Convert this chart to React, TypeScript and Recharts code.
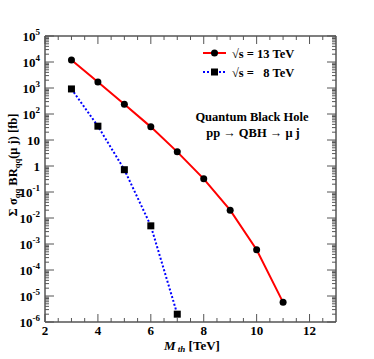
import React from "react";
import { LineChart, Line, XAxis, YAxis, Customized } from "recharts";

// ---- data ----
const masses = [3, 4, 5, 6, 7, 8, 9, 10, 11];
const sigma13 = [1.2e4, 1.7e3, 235, 32, 3.5, 0.32, 0.02, 6e-4, 5.7e-6];
const sigma8 = [920, 34, 0.72, 0.005, 2e-6];
const seriesLabels = ["\u221As = 13 TeV", "\u221As = \u00a0\u00a08 TeV"];
const annotation = ["Quantum Black Hole", "pp \u2192 QBH \u2192 \u03bc j"];
const xTicks = [2, 2.5, 3, 3.5, 4, 4.5, 5, 5.5, 6, 6.5, 7, 7.5, 8, 8.5, 9, 9.5, 10, 10.5, 11, 11.5, 12, 12.5];
const decades = [-6, -5, -4, -3, -2, -1, 0, 1, 2, 3, 4, 5];

const data = masses.map((m, i) => ({
  m,
  s13: sigma13[i],
  s8: i < sigma8.length ? sigma8[i] : undefined,
}));

const yTicks: number[] = [];
decades.forEach((d) => {
  yTicks.push(Math.pow(10, d));
  if (d < 5) for (let k = 2; k <= 9; k++) yTicks.push(k * Math.pow(10, d));
});

const RED = "#ff0000";
const BLUE = "#0000ff";
const AXIS = "#555555";
const FONT = "'Liberation Serif', 'DejaVu Serif', serif";

const isMajorY = (v: number) => {
  const l = Math.log10(v);
  return Math.abs(l - Math.round(l)) < 1e-6;
};

const yLabel = (v: number) => {
  const e = Math.round(Math.log10(v));
  if (e === 0) return <tspan>1</tspan>;
  if (e === 1) return <tspan>10</tspan>;
  return (
    <>
      <tspan>10</tspan>
      <tspan dy={-6} fontSize={9}>{String(e)}</tspan>
    </>
  );
};

const LeftTick = (props: any) => {
  const { x, y, payload } = props;
  const major = isMajorY(payload.value);
  return (
    <g>
      <line x1={x} x2={x + (major ? 9 : 4)} y1={y} y2={y} stroke={AXIS} strokeWidth={1} />
      {major && (
        <text x={x - 5} y={y + 5} textAnchor="end" fontFamily={FONT} fontWeight="bold" fontSize={13} fill="#000">
          {yLabel(payload.value)}
        </text>
      )}
    </g>
  );
};

const RightTick = (props: any) => {
  const { x, y, payload } = props;
  const major = isMajorY(payload.value);
  return <line x1={x} x2={x - (major ? 9 : 4)} y1={y} y2={y} stroke={AXIS} strokeWidth={1} />;
};

const BottomTick = (props: any) => {
  const { x, y, payload } = props;
  const v = payload.value;
  const major = Math.abs(v % 2) < 1e-6;
  return (
    <g>
      <line x1={x} x2={x} y1={y} y2={y - (major ? 8 : 4)} stroke={AXIS} strokeWidth={1} />
      {major && (
        <text x={x} y={y + 13} textAnchor="middle" fontFamily={FONT} fontWeight="bold" fontSize={13} fill="#000">
          {String(v)}
        </text>
      )}
    </g>
  );
};

const TopTick = (props: any) => {
  const { x, y, payload } = props;
  const major = Math.abs(payload.value % 2) < 1e-6;
  return <line x1={x} x2={x} y1={y} y2={y + (major ? 8 : 4)} stroke={AXIS} strokeWidth={1} />;
};

const CircleDot = (props: any) => {
  const { cx, cy, index } = props;
  if (cx == null || cy == null) return <g key={`c${index}`} />;
  return <circle key={`c${index}`} cx={cx} cy={cy} r={3.5} fill="#000" />;
};

const SquareDot = (props: any) => {
  const { cx, cy, index, value } = props;
  if (cx == null || cy == null || value == null) return <g key={`s${index}`} />;
  return <rect key={`s${index}`} x={cx - 3.5} y={cy - 3.5} width={7} height={7} fill="#000" />;
};

const Decorations = () => (
  <g fontFamily={FONT} fontWeight="bold" fill="#000">
    {/* legend */}
    <line x1={203} x2={226} y1={53} y2={53} stroke={RED} strokeWidth={2} />
    <circle cx={214.5} cy={53} r={3.5} fill="#000" />
    <text x={232} y={57.5} fontSize={12.5}>{seriesLabels[0]}</text>
    <line x1={203} x2={226} y1={72} y2={72} stroke={BLUE} strokeWidth={2} strokeDasharray="2 2" />
    <rect x={211} y={68.5} width={7} height={7} fill="#000" />
    <text x={232} y={76.5} fontSize={12.5}>{seriesLabels[1]}</text>
    {/* annotation */}
    <text x={252} y={120.5} fontSize={12.5} textAnchor="middle">{annotation[0]}</text>
    <text x={253} y={136.5} fontSize={12.5} textAnchor="middle">{annotation[1]}</text>
    {/* x title */}
    <text x={164} y={350} fontSize={13}>
      <tspan fontStyle="italic">M</tspan>
      <tspan fontStyle="italic" fontSize={9} dy={2}> th</tspan>
      <tspan dy={-2}> [TeV]</tspan>
    </text>
    {/* y title */}
    <text x={17} y={165} fontSize={12.5} textAnchor="middle" transform="rotate(-90 17 165)">
      <tspan>{"\u03a3 \u03c3"}</tspan>
      <tspan fontSize={8.5} dy={3}>qq</tspan>
      <tspan dy={-3}> BR</tspan>
      <tspan fontSize={8.5} dy={3}>qq</tspan>
      <tspan dy={-3}>{"(\u03bc j) [fb]"}</tspan>
    </text>
  </g>
);

const axisLine = { stroke: AXIS, strokeWidth: 1.5 };

export default function App() {
  return (
    <div style={{ position: "absolute", left: 0, top: 0, background: "#fff" }}>
      <LineChart width={374} height={359} data={data} margin={{ top: 35, right: 37, bottom: 36, left: 44 }}>
        <XAxis
          dataKey="m"
          type="number"
          domain={[2, 13]}
          ticks={xTicks}
          interval={0}
          height={1}
          tickSize={0}
          tickMargin={0}
          tickLine={false}
          axisLine={axisLine}
          tick={<BottomTick />}
          allowDataOverflow
        />
        <XAxis
          xAxisId="top"
          orientation="top"
          dataKey="m"
          type="number"
          domain={[2, 13]}
          ticks={xTicks}
          interval={0}
          height={1}
          tickSize={0}
          tickMargin={0}
          tickLine={false}
          axisLine={axisLine}
          tick={<TopTick />}
          allowDataOverflow
        />
        <YAxis
          scale="log"
          type="number"
          domain={[1e-6, 1e5]}
          ticks={yTicks}
          interval={0}
          width={1}
          tickSize={0}
          tickMargin={0}
          tickLine={false}
          axisLine={axisLine}
          tick={<LeftTick />}
          allowDataOverflow
        />
        <YAxis
          yAxisId="right"
          orientation="right"
          scale="log"
          type="number"
          domain={[1e-6, 1e5]}
          ticks={yTicks}
          interval={0}
          width={1}
          tickSize={0}
          tickMargin={0}
          tickLine={false}
          axisLine={axisLine}
          tick={<RightTick />}
          allowDataOverflow
        />
        <Line
          dataKey="s13"
          type="linear"
          stroke={RED}
          strokeWidth={2}
          dot={CircleDot}
          activeDot={false}
          isAnimationActive={false}
        />
        <Line
          dataKey="s8"
          type="linear"
          stroke={BLUE}
          strokeWidth={2}
          strokeDasharray="2 2"
          dot={SquareDot}
          activeDot={false}
          isAnimationActive={false}
        />
        <Customized component={Decorations} />
      </LineChart>
    </div>
  );
}
